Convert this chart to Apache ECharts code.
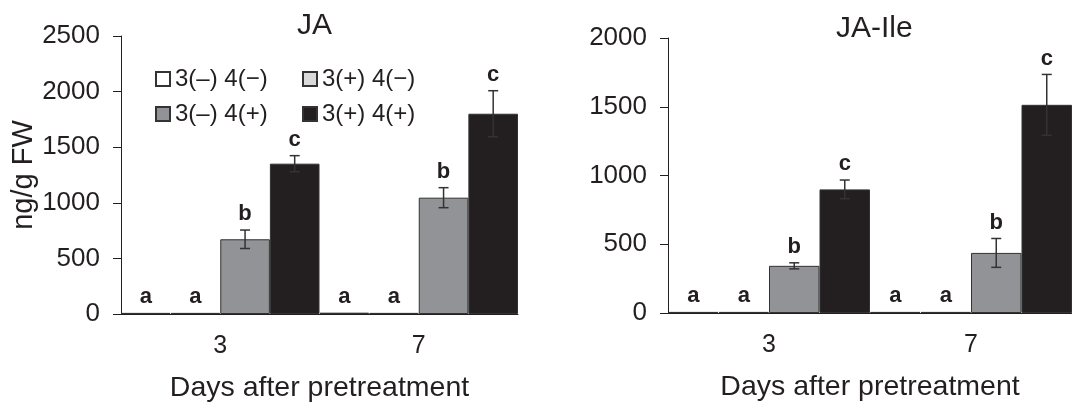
<!DOCTYPE html>
<html>
<head>
<meta charset="utf-8">
<script src="https://cdn.jsdelivr.net/npm/echarts@6/dist/echarts.min.js"></script>
<style>
  html, body { margin: 0; padding: 0; background: #fff; }
  #main { width: 1072px; height: 408px; }
</style>
</head>
<body>
<div id="main"></div>
<script>
// categories and groups
var days = ['3', '7']
var groups = ['3(–) 4(−)', '3(+) 4(−)', '3(–) 4(+)', '3(+) 4(+)']
var colors = ['#ffffff', '#d9dadb', '#929396', '#231f20']

// JA (ng/g FW)
var jaNone = [10, 12]
var jaThree = [10, 10]
var jaFour = [672, 1046]
var jaBoth = [1352, 1801]
var jaFourErr = [83, 90]
var jaBothErr = [72, 207]

// JA-Ile (ng/g FW)
var ileNone = [8, 8]
var ileThree = [8, 8]
var ileFour = [343, 437]
var ileBoth = [899, 1514]
var ileFourErr = [22, 105]
var ileBothErr = [68, 221]

// significance letters
var lettersNone = ['a', 'a']
var lettersThree = ['a', 'a']
var lettersFour = ['b', 'b']
var lettersBoth = ['c', 'c']

var font = 'Liberation Sans, Arial, sans-serif'
var ink = '#231f20'

var chart = echarts.init(document.getElementById('main'))

// error bar + letter drawn above each bar
function errSeries(idx, values, errs, letters, axis) {
  return {
    type: 'custom',
    xAxisIndex: axis,
    yAxisIndex: axis,
    z: 10,
    silent: true,
    data: values.map(function (v, i) { return [i, v, errs ? errs[i] : 0] }),
    renderItem: function (params, api) {
      var cat = api.value(0), v = api.value(1), e = api.value(2)
      var band = api.size([1, 0])[0]
      var x = api.coord([cat, 0])[0] + (idx - 1.5) * band / 4
      var yTop = api.coord([cat, v + e])[1]
      var yBot = api.coord([cat, v - e])[1]
      var children = []
      if (e > 0) {
        var ls = { stroke: '#333', lineWidth: 1.5 }
        children.push({ type: 'line', shape: { x1: x, y1: yTop, x2: x, y2: yBot }, style: ls })
        children.push({ type: 'line', shape: { x1: x - 5, y1: yTop, x2: x + 5, y2: yTop }, style: ls })
        children.push({ type: 'line', shape: { x1: x - 5, y1: yBot, x2: x + 5, y2: yBot }, style: ls })
      }
      children.push({
        type: 'text',
        x: x, y: yTop - 5,
        style: {
          text: letters[params.dataIndex], fill: ink,
          font: 'bold 22px ' + font, align: 'center', verticalAlign: 'bottom'
        }
      })
      return { type: 'group', children: children }
    }
  }
}

function barSeries(idx, values, axis) {
  return {
    name: groups[idx],
    type: 'bar',
    xAxisIndex: axis,
    yAxisIndex: axis,
    barGap: '0%',
    barCategoryGap: '0%',
    itemStyle: { color: colors[idx], borderColor: '#333', borderWidth: 1 },
    data: values
  }
}

function xAxis(grid) {
  return {
    type: 'category', gridIndex: grid, data: days,
    axisLine: { lineStyle: { color: ink, width: 1 } },
    axisTick: { length: 9, lineStyle: { color: ink } },
    axisLabel: { fontSize: 25, color: ink, fontFamily: font, margin: 20 },
    name: 'Days after pretreatment', nameLocation: 'middle', nameGap: 60,
    nameTextStyle: { fontSize: 28.5, color: ink, fontFamily: font }
  }
}

function yAxis(grid, max, name) {
  return {
    type: 'value', gridIndex: grid, min: 0, max: max, interval: 500,
    splitLine: { show: false },
    axisLine: { show: true, lineStyle: { color: ink, width: 1 } },
    axisTick: { show: true, length: 8, lineStyle: { color: ink } },
    axisLabel: {
      fontSize: 26, color: ink, fontFamily: font, margin: 21,
      formatter: function (v) { return String(v) }
    },
    name: name, nameLocation: 'middle', nameGap: 74,
    nameTextStyle: { fontSize: 29, color: ink, fontFamily: font, padding: [0, 0, 0, 0] }
  }
}

var legendText = { fontSize: 24, color: ink, fontFamily: font }

chart.setOption({
  animation: false,
  title: [
    { text: 'JA', left: 297, top: 11, padding: 0, textStyle: { fontSize: 30, fontWeight: 'normal', color: ink, fontFamily: font } },
    { text: 'JA-Ile', left: 836, top: 14, padding: 0, textStyle: { fontSize: 30, fontWeight: 'normal', color: ink, fontFamily: font } }
  ],
  legend: [
    { data: [groups[0], groups[2]], orient: 'vertical', left: 155, top: 67, padding: 0,
      itemWidth: 14, itemHeight: 14, itemGap: 11, icon: 'rect', textStyle: legendText },
    { data: [groups[1], groups[3]], orient: 'vertical', left: 302, top: 67, padding: 0,
      itemWidth: 14, itemHeight: 14, itemGap: 11, icon: 'rect', textStyle: legendText }
  ],
  grid: [
    { left: 121, right: 554, top: 36, bottom: 94 },
    { left: 668, right: 0, top: 38, bottom: 95 }
  ],
  xAxis: [xAxis(0), xAxis(1)],
  yAxis: [yAxis(0, 2500, 'ng/g FW'), yAxis(1, 2000, '')],
  series: [
    barSeries(0, jaNone, 0),
    barSeries(1, jaThree, 0),
    barSeries(2, jaFour, 0),
    barSeries(3, jaBoth, 0),
    errSeries(0, jaNone, null, lettersNone, 0),
    errSeries(1, jaThree, null, lettersThree, 0),
    errSeries(2, jaFour, jaFourErr, lettersFour, 0),
    errSeries(3, jaBoth, jaBothErr, lettersBoth, 0),
    barSeries(0, ileNone, 1),
    barSeries(1, ileThree, 1),
    barSeries(2, ileFour, 1),
    barSeries(3, ileBoth, 1),
    errSeries(0, ileNone, null, lettersNone, 1),
    errSeries(1, ileThree, null, lettersThree, 1),
    errSeries(2, ileFour, ileFourErr, lettersFour, 1),
    errSeries(3, ileBoth, ileBothErr, lettersBoth, 1)
  ]
})
</script>
</body>
</html>
